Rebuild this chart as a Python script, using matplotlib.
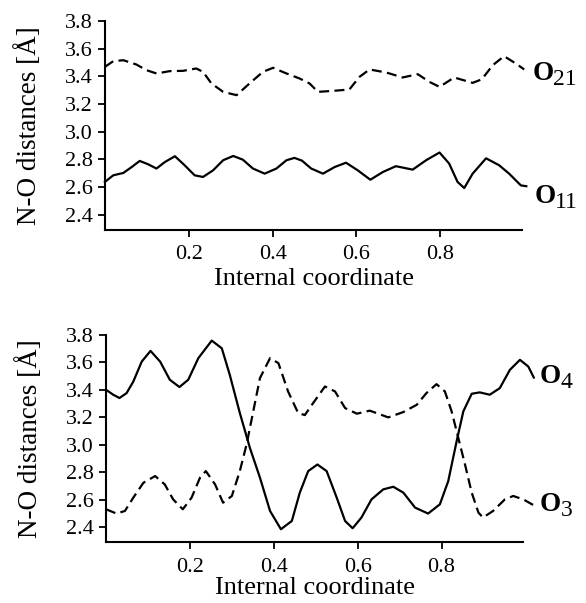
import matplotlib
matplotlib.use("Agg")
import matplotlib.pyplot as plt

# top panel: O21 (dashed) and O11 (solid)
x_o21 = [0.0, 0.020, 0.044, 0.075, 0.099, 0.123, 0.155, 0.186, 0.218, 0.234, 0.254, 0.282,
         0.314, 0.345, 0.377, 0.401, 0.433, 0.464, 0.488, 0.508, 0.544, 0.583, 0.607, 0.631,
         0.671, 0.710, 0.746, 0.774, 0.798, 0.833, 0.877, 0.899, 0.925, 0.952, 0.980, 1.0]
y_o21 = [3.469, 3.510, 3.517, 3.486, 3.445, 3.421, 3.438, 3.440, 3.457, 3.433, 3.349, 3.288,
         3.264, 3.349, 3.433, 3.462, 3.421, 3.385, 3.349, 3.288, 3.295, 3.305, 3.396, 3.450,
         3.428, 3.392, 3.416, 3.360, 3.324, 3.392, 3.353, 3.379, 3.481, 3.546, 3.493, 3.45]

x_o11 = [0.0, 0.020, 0.044, 0.064, 0.083, 0.103, 0.123, 0.143, 0.167, 0.190, 0.214, 0.234,
         0.258, 0.282, 0.306, 0.329, 0.353, 0.381, 0.409, 0.433, 0.452, 0.470, 0.492, 0.520,
         0.548, 0.575, 0.603, 0.633, 0.663, 0.694, 0.734, 0.766, 0.798, 0.821, 0.841, 0.857,
         0.877, 0.909, 0.940, 0.964, 0.992, 1.005]
y_o11 = [2.636, 2.684, 2.701, 2.744, 2.788, 2.764, 2.733, 2.780, 2.822, 2.757, 2.684, 2.672,
         2.720, 2.793, 2.824, 2.797, 2.733, 2.696, 2.733, 2.793, 2.810, 2.790, 2.733, 2.696,
         2.744, 2.775, 2.720, 2.652, 2.708, 2.750, 2.725, 2.793, 2.849, 2.769, 2.636, 2.592,
         2.696, 2.807, 2.757, 2.696, 2.611, 2.605]

# bottom panel: O4 (solid) and O3 (dashed)
x_o4 = [0.0, 0.017, 0.032, 0.049, 0.065, 0.085, 0.106, 0.129, 0.152, 0.175, 0.196, 0.220,
        0.252, 0.276, 0.295, 0.319, 0.343, 0.367, 0.391, 0.417, 0.443, 0.462, 0.482, 0.504,
        0.526, 0.550, 0.570, 0.588, 0.609, 0.633, 0.661, 0.685, 0.709, 0.737, 0.768, 0.796,
        0.816, 0.836, 0.852, 0.872, 0.891, 0.915, 0.939, 0.963, 0.987, 1.007, 1.020]
y_o4 = [3.401, 3.365, 3.341, 3.377, 3.461, 3.606, 3.684, 3.606, 3.474, 3.421, 3.474, 3.631,
        3.759, 3.703, 3.510, 3.232, 2.978, 2.761, 2.519, 2.386, 2.446, 2.652, 2.809, 2.857,
        2.809, 2.616, 2.446, 2.393, 2.471, 2.603, 2.676, 2.695, 2.652, 2.543, 2.500, 2.567,
        2.736, 3.026, 3.244, 3.372, 3.382, 3.365, 3.413, 3.546, 3.619, 3.570, 3.490]

x_o3 = [0.0, 0.025, 0.045, 0.065, 0.089, 0.117, 0.140, 0.160, 0.183, 0.204, 0.224, 0.238,
        0.260, 0.279, 0.300, 0.319, 0.335, 0.351, 0.367, 0.391, 0.411, 0.434, 0.458, 0.474,
        0.494, 0.522, 0.546, 0.570, 0.598, 0.629, 0.673, 0.709, 0.741, 0.764, 0.788, 0.808,
        0.824, 0.840, 0.856, 0.872, 0.888, 0.899, 0.923, 0.951, 0.971, 0.995, 1.020]
y_o3 = [2.531, 2.500, 2.519, 2.616, 2.724, 2.773, 2.712, 2.603, 2.531, 2.616, 2.761, 2.809,
        2.712, 2.579, 2.628, 2.809, 3.002, 3.244, 3.486, 3.631, 3.595, 3.389, 3.232, 3.217,
        3.305, 3.425, 3.389, 3.268, 3.227, 3.249, 3.200, 3.239, 3.292, 3.377, 3.442, 3.389,
        3.244, 3.051, 2.857, 2.652, 2.507, 2.471, 2.519, 2.603, 2.628, 2.603, 2.560]

yticks = [2.4, 2.6, 2.8, 3.0, 3.2, 3.4, 3.6, 3.8]
xticks = [0.2, 0.4, 0.6, 0.8]

plt.rcParams["font.family"] = ["Liberation Serif", "DejaVu Serif"]

fig = plt.figure(figsize=(5.86, 6.03), dpi=100)
ax1 = fig.add_axes([0.179, 0.619, 0.712, 0.346])
ax2 = fig.add_axes([0.181, 0.1005, 0.712, 0.344])

LW = 1.6
DASH = (4.5, 2.4)


def style(ax, xpad):
    ax.set_xlim(0, 0.995)
    ax.set_ylim(2.29, 3.8)
    ax.set_yticks(yticks)
    ax.set_yticklabels([f"{v:.1f}" for v in yticks])
    ax.set_xticks(xticks)
    ax.set_xticklabels([f"{v:.1f}" for v in xticks])
    for s in ("top", "right"):
        ax.spines[s].set_visible(False)
    for s in ("left", "bottom"):
        ax.spines[s].set_linewidth(1.5)
    ax.tick_params(axis="both", direction="out", length=5, width=1.3, labelsize=16)
    ax.tick_params(axis="y", pad=4)
    ax.tick_params(axis="x", pad=6)
    ax.set_xlabel("Internal coordinate", fontsize=19, labelpad=xpad)
    ax.set_ylabel("N-O distances [Å]", fontsize=19.5)
    ax.yaxis.set_label_coords(-0.15, 0.5)


def label(ax, x, y, sub):
    # bold O with a large, regular-weight subscript
    ax.annotate("O", xy=(x, y), fontsize=19.5, fontweight="bold",
                ha="left", va="baseline", annotation_clip=False)
    ax.annotate(sub, xy=(x, y), xytext=(15, -3.6), textcoords="offset points",
                fontsize=17, ha="left", va="baseline", annotation_clip=False)


style(ax1, 3)
ax1.plot(x_o21, y_o21, color="black", lw=LW, dashes=DASH, clip_on=False)
ax1.plot(x_o11, y_o11, color="black", lw=LW, clip_on=False, solid_joinstyle="round")
label(ax1, 1.019, 3.372, "21")
label(ax1, 1.024, 2.481, "11")

style(ax2, 0)
ax2.plot(x_o4, y_o4, color="black", lw=LW, clip_on=False, solid_joinstyle="round")
ax2.plot(x_o3, y_o3, color="black", lw=LW, dashes=DASH, clip_on=False)
label(ax2, 1.035, 3.452, "4")
label(ax2, 1.035, 2.519, "3")

fig.savefig("out.png", dpi=100)
